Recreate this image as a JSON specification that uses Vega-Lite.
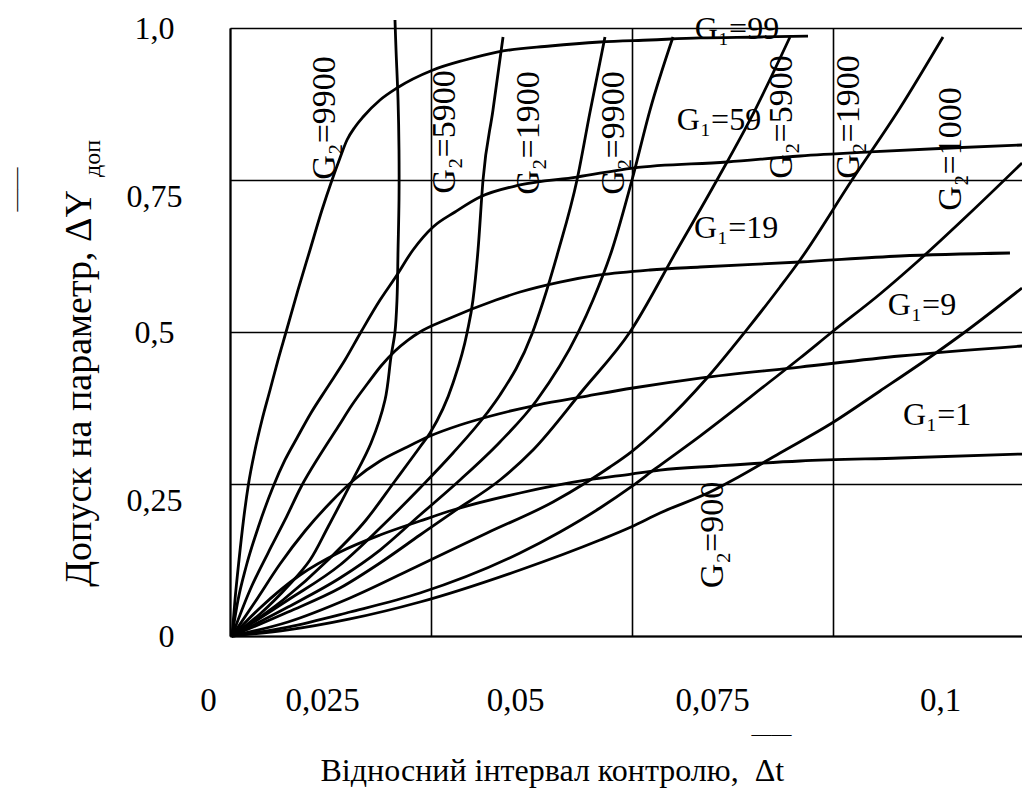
{
  "$schema": "https://vega.github.io/schema/vega-lite/v6.json",
  "width": 792,
  "height": 608,
  "autosize": {"type": "none"},
  "padding": {"left": 230, "top": 28, "right": 0, "bottom": 160},
  "background": "white",
  "config": {
    "view": {"stroke": null},
    "font": "Liberation Serif, Times New Roman, serif",
    "axis": {"labelFont": "Liberation Serif, Times New Roman, serif", "titleFont": "Liberation Serif, Times New Roman, serif", "labelColor": "#000", "titleColor": "#000", "titleFontWeight": "normal", "ticks": false, "tickSize": 0},
    "text": {"font": "Liberation Serif, Times New Roman, serif", "color": "#000"}
  },
  "datasets": {
    "curves": [
      {"curve": "G1=99", "x": 0.00025, "y": 0}, {"curve": "G1=99", "x": 0.00062, "y": 0.0592}, {"curve": "G1=99", "x": 0.00112, "y": 0.125}, {"curve": "G1=99", "x": 0.00168, "y": 0.1908}, {"curve": "G1=99", "x": 0.00230, "y": 0.25}, {"curve": "G1=99", "x": 0.00311, "y": 0.3059}, {"curve": "G1=99", "x": 0.00398, "y": 0.3553}, {"curve": "G1=99", "x": 0.00498, "y": 0.4046}, {"curve": "G1=99", "x": 0.00597, "y": 0.4539}, {"curve": "G1=99", "x": 0.00697, "y": 0.5}, {"curve": "G1=99", "x": 0.00846, "y": 0.5691}, {"curve": "G1=99", "x": 0.00995, "y": 0.6349}, {"curve": "G1=99", "x": 0.01144, "y": 0.7007}, {"curve": "G1=99", "x": 0.01269, "y": 0.75}, {"curve": "G1=99", "x": 0.01368, "y": 0.7862}, {"curve": "G1=99", "x": 0.01455, "y": 0.8158}, {"curve": "G1=99", "x": 0.01555, "y": 0.8372}, {"curve": "G1=99", "x": 0.01654, "y": 0.8536}, {"curve": "G1=99", "x": 0.01866, "y": 0.8816}, {"curve": "G1=99", "x": 0.02077, "y": 0.9013}, {"curve": "G1=99", "x": 0.02525, "y": 0.9309}, {"curve": "G1=99", "x": 0.02923, "y": 0.9474}, {"curve": "G1=99", "x": 0.03321, "y": 0.9605}, {"curve": "G1=99", "x": 0.0398, "y": 0.9704}, {"curve": "G1=99", "x": 0.04602, "y": 0.977}, {"curve": "G1=99", "x": 0.05224, "y": 0.9803}, {"curve": "G1=99", "x": 0.05846, "y": 0.9836}, {"curve": "G1=99", "x": 0.06592, "y": 0.9852}, {"curve": "G1=99", "x": 0.07189, "y": 0.9868},
      {"curve": "G1=59", "x": 0.00025, "y": 0}, {"curve": "G1=59", "x": 0.00100, "y": 0.0592}, {"curve": "G1=59", "x": 0.00199, "y": 0.1135}, {"curve": "G1=59", "x": 0.00361, "y": 0.1826}, {"curve": "G1=59", "x": 0.00535, "y": 0.2451}, {"curve": "G1=59", "x": 0.00684, "y": 0.2895}, {"curve": "G1=59", "x": 0.00833, "y": 0.3257}, {"curve": "G1=59", "x": 0.01007, "y": 0.3668}, {"curve": "G1=59", "x": 0.01206, "y": 0.4079}, {"curve": "G1=59", "x": 0.0143, "y": 0.4539}, {"curve": "G1=59", "x": 0.01629, "y": 0.5}, {"curve": "G1=59", "x": 0.01866, "y": 0.5526}, {"curve": "G1=59", "x": 0.02052, "y": 0.5888}, {"curve": "G1=59", "x": 0.02276, "y": 0.6349}, {"curve": "G1=59", "x": 0.02525, "y": 0.6727}, {"curve": "G1=59", "x": 0.02799, "y": 0.6974}, {"curve": "G1=59", "x": 0.03109, "y": 0.722}, {"curve": "G1=59", "x": 0.03607, "y": 0.7418}, {"curve": "G1=59", "x": 0.04316, "y": 0.7549}, {"curve": "G1=59", "x": 0.05012, "y": 0.7697}, {"curve": "G1=59", "x": 0.06182, "y": 0.7796}, {"curve": "G1=59", "x": 0.0709, "y": 0.7895}, {"curve": "G1=59", "x": 0.0796, "y": 0.7961}, {"curve": "G1=59", "x": 0.08955, "y": 0.8026}, {"curve": "G1=59", "x": 0.09851, "y": 0.8076},
      {"curve": "G1=19", "x": 0.00025, "y": 0}, {"curve": "G1=19", "x": 0.00249, "y": 0.0757}, {"curve": "G1=19", "x": 0.00473, "y": 0.1365}, {"curve": "G1=19", "x": 0.00684, "y": 0.1908}, {"curve": "G1=19", "x": 0.00883, "y": 0.2451}, {"curve": "G1=19", "x": 0.01119, "y": 0.2977}, {"curve": "G1=19", "x": 0.01343, "y": 0.3438}, {"curve": "G1=19", "x": 0.01517, "y": 0.3799}, {"curve": "G1=19", "x": 0.01716, "y": 0.4161}, {"curve": "G1=19", "x": 0.01878, "y": 0.4441}, {"curve": "G1=19", "x": 0.02052, "y": 0.4688}, {"curve": "G1=19", "x": 0.02214, "y": 0.4868}, {"curve": "G1=19", "x": 0.02363, "y": 0.5}, {"curve": "G1=19", "x": 0.02711, "y": 0.5214}, {"curve": "G1=19", "x": 0.03308, "y": 0.5526}, {"curve": "G1=19", "x": 0.03607, "y": 0.5658}, {"curve": "G1=19", "x": 0.04104, "y": 0.5822}, {"curve": "G1=19", "x": 0.04602, "y": 0.5938}, {"curve": "G1=19", "x": 0.05224, "y": 0.602}, {"curve": "G1=19", "x": 0.05846, "y": 0.6069}, {"curve": "G1=19", "x": 0.0709, "y": 0.6151}, {"curve": "G1=19", "x": 0.08333, "y": 0.625}, {"curve": "G1=19", "x": 0.09701, "y": 0.6299},
      {"curve": "G1=9", "x": 0.00025, "y": 0}, {"curve": "G1=9", "x": 0.00311, "y": 0.0559}, {"curve": "G1=9", "x": 0.00622, "y": 0.1184}, {"curve": "G1=9", "x": 0.00933, "y": 0.1727}, {"curve": "G1=9", "x": 0.01244, "y": 0.2188}, {"curve": "G1=9", "x": 0.01555, "y": 0.2582}, {"curve": "G1=9", "x": 0.01866, "y": 0.2878}, {"curve": "G1=9", "x": 0.02177, "y": 0.3092}, {"curve": "G1=9", "x": 0.02488, "y": 0.3289}, {"curve": "G1=9", "x": 0.02861, "y": 0.347}, {"curve": "G1=9", "x": 0.03197, "y": 0.3602}, {"curve": "G1=9", "x": 0.03818, "y": 0.3799}, {"curve": "G1=9", "x": 0.0444, "y": 0.3947}, {"curve": "G1=9", "x": 0.05012, "y": 0.4079}, {"curve": "G1=9", "x": 0.05846, "y": 0.4243}, {"curve": "G1=9", "x": 0.0709, "y": 0.4424}, {"curve": "G1=9", "x": 0.08333, "y": 0.4605}, {"curve": "G1=9", "x": 0.09851, "y": 0.477},
      {"curve": "G1=1", "x": 0.00025, "y": 0}, {"curve": "G1=1", "x": 0.00373, "y": 0.0461}, {"curve": "G1=1", "x": 0.00871, "y": 0.1003}, {"curve": "G1=1", "x": 0.01368, "y": 0.1382}, {"curve": "G1=1", "x": 0.01866, "y": 0.1661}, {"curve": "G1=1", "x": 0.02363, "y": 0.1891}, {"curve": "G1=1", "x": 0.02774, "y": 0.2072}, {"curve": "G1=1", "x": 0.03607, "y": 0.2352}, {"curve": "G1=1", "x": 0.0444, "y": 0.2566}, {"curve": "G1=1", "x": 0.04988, "y": 0.2664}, {"curve": "G1=1", "x": 0.05348, "y": 0.273}, {"curve": "G1=1", "x": 0.06057, "y": 0.2796}, {"curve": "G1=1", "x": 0.0709, "y": 0.2878}, {"curve": "G1=1", "x": 0.08333, "y": 0.2928}, {"curve": "G1=1", "x": 0.09851, "y": 0.2993},
      {"curve": "G2=9900 a", "x": 0.00025, "y": 0}, {"curve": "G2=9900 a", "x": 0.00373, "y": 0.0362}, {"curve": "G2=9900 a", "x": 0.00746, "y": 0.0855}, {"curve": "G2=9900 a", "x": 0.00995, "y": 0.125}, {"curve": "G2=9900 a", "x": 0.01219, "y": 0.1793}, {"curve": "G2=9900 a", "x": 0.01505, "y": 0.2516}, {"curve": "G2=9900 a", "x": 0.01754, "y": 0.3174}, {"curve": "G2=9900 a", "x": 0.01928, "y": 0.3882}, {"curve": "G2=9900 a", "x": 0.02002, "y": 0.4589}, {"curve": "G2=9900 a", "x": 0.02052, "y": 0.5}, {"curve": "G2=9900 a", "x": 0.02077, "y": 0.5526}, {"curve": "G2=9900 a", "x": 0.0209, "y": 0.6349}, {"curve": "G2=9900 a", "x": 0.02102, "y": 0.7171}, {"curve": "G2=9900 a", "x": 0.02102, "y": 0.7993}, {"curve": "G2=9900 a", "x": 0.0209, "y": 0.8816}, {"curve": "G2=9900 a", "x": 0.02065, "y": 0.9638}, {"curve": "G2=9900 a", "x": 0.02052, "y": 1.0132},
      {"curve": "G2=5900 a", "x": 0.00025, "y": 0}, {"curve": "G2=5900 a", "x": 0.00659, "y": 0.0592}, {"curve": "G2=5900 a", "x": 0.01219, "y": 0.125}, {"curve": "G2=5900 a", "x": 0.01692, "y": 0.1908}, {"curve": "G2=5900 a", "x": 0.02052, "y": 0.255}, {"curve": "G2=5900 a", "x": 0.02363, "y": 0.3109}, {"curve": "G2=5900 a", "x": 0.02488, "y": 0.3339}, {"curve": "G2=5900 a", "x": 0.02774, "y": 0.4161}, {"curve": "G2=5900 a", "x": 0.02948, "y": 0.4984}, {"curve": "G2=5900 a", "x": 0.03022, "y": 0.5526}, {"curve": "G2=5900 a", "x": 0.03085, "y": 0.6349}, {"curve": "G2=5900 a", "x": 0.03147, "y": 0.75}, {"curve": "G2=5900 a", "x": 0.03271, "y": 0.8651}, {"curve": "G2=5900 a", "x": 0.03396, "y": 0.9852},
      {"curve": "G2=1900 a", "x": 0.00025, "y": 0}, {"curve": "G2=1900 a", "x": 0.00721, "y": 0.0592}, {"curve": "G2=1900 a", "x": 0.01368, "y": 0.1168}, {"curve": "G2=1900 a", "x": 0.01866, "y": 0.1776}, {"curve": "G2=1900 a", "x": 0.02363, "y": 0.2434}, {"curve": "G2=1900 a", "x": 0.02774, "y": 0.301}, {"curve": "G2=1900 a", "x": 0.03197, "y": 0.3668}, {"curve": "G2=1900 a", "x": 0.03358, "y": 0.3964}, {"curve": "G2=1900 a", "x": 0.03756, "y": 0.4967}, {"curve": "G2=1900 a", "x": 0.03893, "y": 0.5493}, {"curve": "G2=1900 a", "x": 0.0408, "y": 0.6316}, {"curve": "G2=1900 a", "x": 0.04316, "y": 0.75}, {"curve": "G2=1900 a", "x": 0.04478, "y": 0.8618}, {"curve": "G2=1900 a", "x": 0.04664, "y": 0.9852},
      {"curve": "G2=9900 b", "x": 0.00025, "y": 0}, {"curve": "G2=9900 b", "x": 0.00721, "y": 0.0477}, {"curve": "G2=9900 b", "x": 0.01368, "y": 0.0954}, {"curve": "G2=9900 b", "x": 0.01866, "y": 0.1414}, {"curve": "G2=9900 b", "x": 0.02363, "y": 0.199}, {"curve": "G2=9900 b", "x": 0.02861, "y": 0.2566}, {"curve": "G2=9900 b", "x": 0.03358, "y": 0.3191}, {"curve": "G2=9900 b", "x": 0.03818, "y": 0.3882}, {"curve": "G2=9900 b", "x": 0.04328, "y": 0.4984}, {"curve": "G2=9900 b", "x": 0.04515, "y": 0.5526}, {"curve": "G2=9900 b", "x": 0.04751, "y": 0.6349}, {"curve": "G2=9900 b", "x": 0.05, "y": 0.75}, {"curve": "G2=9900 b", "x": 0.05224, "y": 0.8651}, {"curve": "G2=9900 b", "x": 0.0551, "y": 0.9852},
      {"curve": "G2=5900 b", "x": 0.00025, "y": 0}, {"curve": "G2=5900 b", "x": 0.00721, "y": 0.0395}, {"curve": "G2=5900 b", "x": 0.01368, "y": 0.0789}, {"curve": "G2=5900 b", "x": 0.01866, "y": 0.1201}, {"curve": "G2=5900 b", "x": 0.02363, "y": 0.1661}, {"curve": "G2=5900 b", "x": 0.02774, "y": 0.2039}, {"curve": "G2=5900 b", "x": 0.03358, "y": 0.2566}, {"curve": "G2=5900 b", "x": 0.03769, "y": 0.3059}, {"curve": "G2=5900 b", "x": 0.04391, "y": 0.4046}, {"curve": "G2=5900 b", "x": 0.04975, "y": 0.5}, {"curve": "G2=5900 b", "x": 0.0556, "y": 0.6349}, {"curve": "G2=5900 b", "x": 0.06057, "y": 0.75}, {"curve": "G2=5900 b", "x": 0.0653, "y": 0.8651}, {"curve": "G2=5900 b", "x": 0.06965, "y": 0.9852},
      {"curve": "G2=1900 b", "x": 0.00025, "y": 0}, {"curve": "G2=1900 b", "x": 0.00721, "y": 0.023}, {"curve": "G2=1900 b", "x": 0.01493, "y": 0.0625}, {"curve": "G2=1900 b", "x": 0.02363, "y": 0.1168}, {"curve": "G2=1900 b", "x": 0.03197, "y": 0.1694}, {"curve": "G2=1900 b", "x": 0.04017, "y": 0.2204}, {"curve": "G2=1900 b", "x": 0.0444, "y": 0.2533}, {"curve": "G2=1900 b", "x": 0.04726, "y": 0.278}, {"curve": "G2=1900 b", "x": 0.04988, "y": 0.3026}, {"curve": "G2=1900 b", "x": 0.05348, "y": 0.3438}, {"curve": "G2=1900 b", "x": 0.05933, "y": 0.4243}, {"curve": "G2=1900 b", "x": 0.06405, "y": 0.5}, {"curve": "G2=1900 b", "x": 0.06841, "y": 0.574}, {"curve": "G2=1900 b", "x": 0.0709, "y": 0.6184}, {"curve": "G2=1900 b", "x": 0.07736, "y": 0.75}, {"curve": "G2=1900 b", "x": 0.08333, "y": 0.8684}, {"curve": "G2=1900 b", "x": 0.08868, "y": 0.9852},
      {"curve": "G2=1000", "x": 0.00025, "y": 0}, {"curve": "G2=1000", "x": 0.00721, "y": 0.0148}, {"curve": "G2=1000", "x": 0.01493, "y": 0.0395}, {"curve": "G2=1000", "x": 0.02363, "y": 0.0707}, {"curve": "G2=1000", "x": 0.03607, "y": 0.1365}, {"curve": "G2=1000", "x": 0.04104, "y": 0.1711}, {"curve": "G2=1000", "x": 0.04602, "y": 0.2105}, {"curve": "G2=1000", "x": 0.04988, "y": 0.2451}, {"curve": "G2=1000", "x": 0.05286, "y": 0.2747}, {"curve": "G2=1000", "x": 0.05846, "y": 0.3289}, {"curve": "G2=1000", "x": 0.06679, "y": 0.4145}, {"curve": "G2=1000", "x": 0.0709, "y": 0.4572}, {"curve": "G2=1000", "x": 0.07488, "y": 0.5}, {"curve": "G2=1000", "x": 0.08085, "y": 0.5625}, {"curve": "G2=1000", "x": 0.08545, "y": 0.6151}, {"curve": "G2=1000", "x": 0.09204, "y": 0.6957}, {"curve": "G2=1000", "x": 0.09851, "y": 0.778},
      {"curve": "G2=900", "x": 0.00025, "y": 0}, {"curve": "G2=900", "x": 0.00721, "y": 0.0099}, {"curve": "G2=900", "x": 0.01493, "y": 0.028}, {"curve": "G2=900", "x": 0.02363, "y": 0.0559}, {"curve": "G2=900", "x": 0.03607, "y": 0.1086}, {"curve": "G2=900", "x": 0.04602, "y": 0.1579}, {"curve": "G2=900", "x": 0.04988, "y": 0.1793}, {"curve": "G2=900", "x": 0.05348, "y": 0.2023}, {"curve": "G2=900", "x": 0.0597, "y": 0.2368}, {"curve": "G2=900", "x": 0.06256, "y": 0.2566}, {"curve": "G2=900", "x": 0.06841, "y": 0.301}, {"curve": "G2=900", "x": 0.07488, "y": 0.3503}, {"curve": "G2=900", "x": 0.08085, "y": 0.403}, {"curve": "G2=900", "x": 0.08744, "y": 0.4622}, {"curve": "G2=900", "x": 0.09142, "y": 0.5}, {"curve": "G2=900", "x": 0.09851, "y": 0.5724}
    ],
    "g1labels": [
      {"label": "G₁=99", "x": 0.06306, "y": 0.9984},
      {"label": "G₁=59", "x": 0.06082, "y": 0.8487},
      {"label": "G₁=19", "x": 0.06294, "y": 0.6711},
      {"label": "G₁=9", "x": 0.08607, "y": 0.5444},
      {"label": "G₁=1", "x": 0.08794, "y": 0.3635}
    ],
    "g2labels": [
      {"label": "G₂=9900", "x": 0.01182, "y": 0.852},
      {"label": "G₂=5900", "x": 0.02674, "y": 0.8289},
      {"label": "G₂=1900", "x": 0.03719, "y": 0.8273},
      {"label": "G₂=9900", "x": 0.04776, "y": 0.8273},
      {"label": "G₂=5900", "x": 0.06866, "y": 0.8536},
      {"label": "G₂=1900", "x": 0.07699, "y": 0.8536},
      {"label": "G₂=1000", "x": 0.08968, "y": 0.801},
      {"label": "G₂=900", "x": 0.06007, "y": 0.1661}
    ]
  },
  "resolve": {"axis": {"x": "independent", "y": "independent"}},
  "layer": [
    {
      "data": {"name": "curves"},
      "transform": [{"filter": "datum.curve != 'G2=9900 a'"}],
      "mark": {"type": "line", "color": "#000", "strokeWidth": 2.8, "interpolate": "monotone", "clip": false},
      "encoding": {
        "x": {
          "field": "x", "type": "quantitative",
          "scale": {"domain": [0, 0.1], "range": [0, 804], "nice": false, "zero": false},
          "axis": {
            "orient": "bottom",
            "values": [0, 0.025, 0.05, 0.075, 0.1],
            "grid": true, "gridColor": "#000", "gridWidth": 1.6, "gridOpacity": 1,
            "domain": true, "domainColor": "#000", "domainWidth": 2,
            "labelExpr": "replace(toString(datum.value), '.', ',')",
            "labelFontSize": 33, "labelBaseline": "middle", "labelAlign": "center",
            "labelPadding": 64, "labelFlush": false, "labelOverlap": false, "labelBound": false,
            "labelOffset": {"condition": [{"test": "datum.value == 0", "value": -22}, {"test": "datum.value == 0.025", "value": -109}, {"test": "datum.value == 0.05", "value": -117}, {"test": "datum.value == 0.075", "value": -121}], "value": -94},
            "title": "Відносний інтервал контролю,\u00a0\u00a0Δt",
            "titleFontSize": 32, "titleX": 90, "titleY": 144, "titleAlign": "left", "titleBaseline": "alphabetic", "titleAngle": 0
          }
        },
        "y": {
          "field": "y", "type": "quantitative",
          "scale": {"domain": [0, 1], "nice": false, "zero": false},
          "axis": {
            "orient": "left",
            "values": [0, 0.25, 0.5, 0.75, 1],
            "grid": true, "gridColor": "#000", "gridWidth": 1.6, "gridOpacity": 1,
            "domain": true, "domainColor": "#000", "domainWidth": 2,
            "labelExpr": "datum.value == 1 ? '1,0' : replace(toString(datum.value), '.', ',')",
            "labelFontSize": 32, "labelBaseline": "middle", "labelAlign": "center",
            "labelPadding": {"condition": {"test": "datum.value == 0", "value": 64}, "value": 76},
            "labelOffset": {"condition": [{"test": "datum.value == 0.75", "value": 16}, {"test": "datum.value == 0.25", "value": 16}], "value": 0},
            "labelFlush": false, "labelOverlap": false, "labelBound": false,
            "title": "Допуск на параметр, ΔY",
            "titleFontSize": 38, "titleX": -140, "titleY": 360, "titleAlign": "center", "titleBaseline": "alphabetic", "titleAngle": 270
          }
        },
        "detail": {"field": "curve"},
        "order": {"value": null}
      }
    },
    {
      "data": {"name": "curves"},
      "transform": [{"filter": "datum.curve == 'G2=9900 a'"}],
      "mark": {"type": "line", "color": "#000", "strokeWidth": 2.8, "interpolate": "catmull-rom", "clip": false},
      "encoding": {
        "x": {"field": "x", "type": "quantitative", "scale": {"domain": [0, 0.1], "range": [0, 804], "nice": false, "zero": false}, "axis": null},
        "y": {"field": "y", "type": "quantitative", "scale": {"domain": [0, 1], "nice": false, "zero": false}, "axis": null},
        "order": {"value": null}
      }
    },
    {
      "data": {"name": "g1labels"},
      "mark": {"type": "text", "fontSize": 32, "align": "center", "baseline": "middle"},
      "encoding": {
        "x": {
          "field": "x", "type": "quantitative",
          "scale": {"domain": [0, 0.1], "range": [0, 804], "nice": false, "zero": false},
          "axis": {"orient": "bottom", "labels": false, "grid": false, "domain": false, "title": "——", "titleFontSize": 20, "titleX": 541, "titleY": 104, "titleAlign": "center", "titleBaseline": "alphabetic"}
        },
        "y": {
          "field": "y", "type": "quantitative",
          "scale": {"domain": [0, 1], "nice": false, "zero": false},
          "axis": {"orient": "left", "labels": false, "grid": false, "domain": false, "title": "доп", "titleFontSize": 24, "titleX": -131, "titleY": 130, "titleAlign": "center", "titleBaseline": "alphabetic", "titleAngle": 270}
        },
        "text": {"field": "label"}
      }
    },
    {
      "data": {"name": "g2labels"},
      "mark": {"type": "text", "fontSize": 34, "align": "center", "baseline": "middle", "angle": 270},
      "encoding": {
        "x": {
          "field": "x", "type": "quantitative",
          "scale": {"domain": [0, 0.1], "range": [0, 804], "nice": false, "zero": false},
          "axis": null
        },
        "y": {
          "field": "y", "type": "quantitative",
          "scale": {"domain": [0, 1], "nice": false, "zero": false},
          "axis": {"orient": "left", "labels": false, "grid": false, "domain": false, "title": "——", "titleFontSize": 22, "titleX": -208, "titleY": 161, "titleAlign": "center", "titleBaseline": "alphabetic", "titleAngle": 270}
        },
        "text": {"field": "label"}
      }
    }
  ]
}
